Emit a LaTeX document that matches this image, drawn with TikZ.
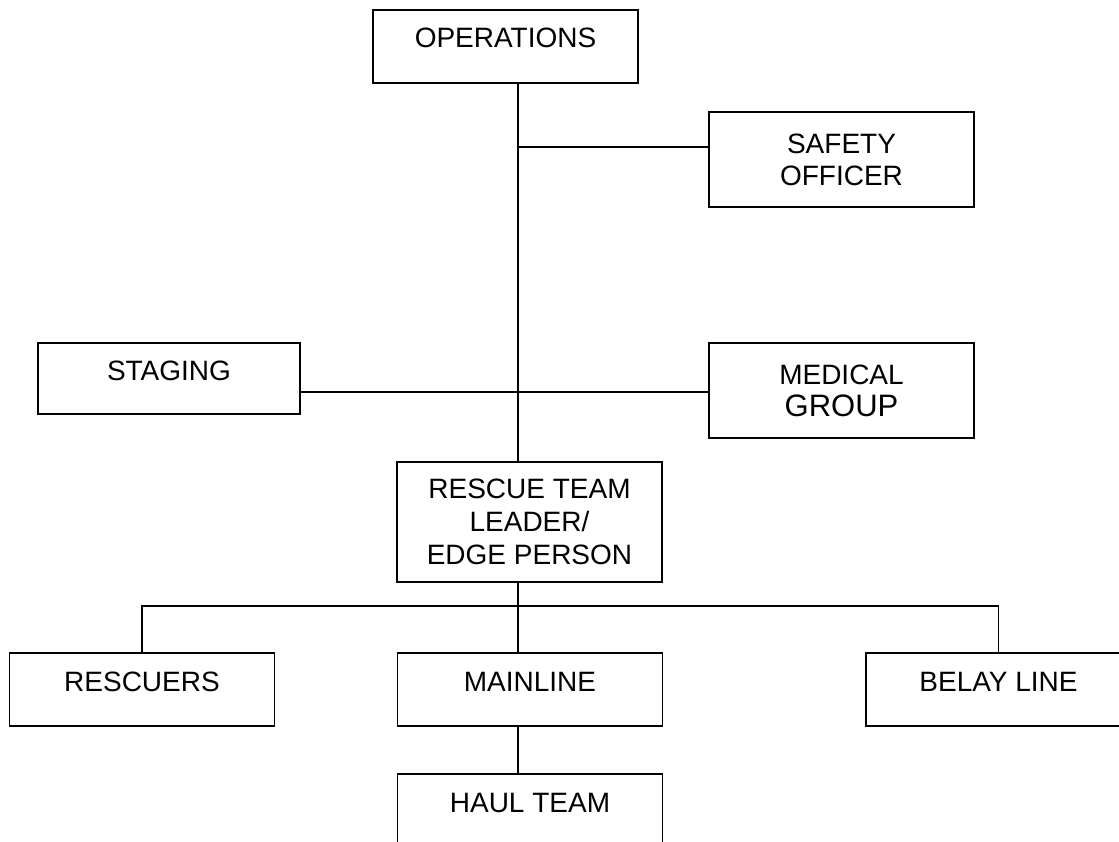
\documentclass[tikz,border=0pt]{standalone}
\usepackage{fontspec}
\setmainfont{Liberation Sans}
\usetikzlibrary{positioning}

\tikzset{
  orgbox/.style={draw, line width=1.6pt, inner sep=0pt, minimum width=265pt,
    minimum height=73pt, align=center, font=\fontsize{28}{32}\selectfont},
  oneline/.style={text height=20pt, text depth=17pt},
  link/.style={line width=1.6pt}
}

\begin{document}
\begin{tikzpicture}[x=1pt, y=-1pt]
      \useasboundingbox (0,0) rectangle (1119,842);
      \clip (0,0) rectangle (1119,842);

      \node[orgbox, oneline] (ops) at (505.5,46.5) {OPERATIONS};
      \node[orgbox, minimum height=95pt] (safety) at (841.5,159.5) {SAFETY\\OFFICER};
      \node[orgbox, oneline, minimum width=262pt, minimum height=71pt] (staging) at (169,378.5) {STAGING};
      \node[orgbox, minimum height=95pt] (medical) at (841.5,390.5) {MEDICAL\\{\fontsize{31}{32}\selectfont GROUP}};
      \node[orgbox, minimum height=120pt, font=\fontsize{28}{33}\selectfont] (leader) at (529.5,522) {RESCUE TEAM\\LEADER/\\EDGE PERSON};
      \node[orgbox, oneline] (rescuers) at (142,689.5) {RESCUERS};
      \node[orgbox, oneline] (mainline) at (530,689.5) {MAINLINE};
      \node[orgbox, oneline] (belay) at (998.5,689.5) {BELAY LINE};
      \node[orgbox, oneline] (haul) at (530,810.5) {HAUL TEAM};

      \coordinate (trunk) at (518,0);
      \coordinate (bus) at (0,606);

      \draw[link] (ops.south -| trunk) -- (leader.north -| trunk);
      \draw[link] (trunk |- 0,147) -- (safety.west |- 0,147);
      \draw[link] (staging.east |- 0,392) -- (medical.west |- 0,392);

      \draw[link] (leader.south -| trunk) -- (mainline.north -| trunk);
      \draw[link] (rescuers.north) -- (rescuers.north |- bus) -- (belay.north |- bus) -- (belay.north);
      \draw[link] (mainline.south -| trunk) -- (haul.north -| trunk);
    \end{tikzpicture}
\end{document}
